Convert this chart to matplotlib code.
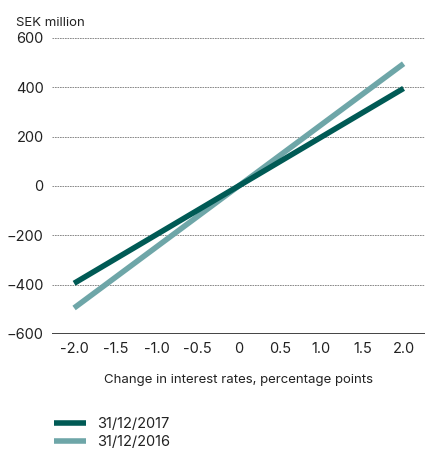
import numpy as np
import matplotlib
matplotlib.use('Agg')
import matplotlib.pyplot as plt
from matplotlib.lines import Line2D

rate_change = [-2.0, 2.0]
val_2017 = [-395, 395]
val_2016 = [-495, 495]
x_ticks = [-2.0, -1.5, -1.0, -0.5, 0, 0.5, 1.0, 1.5, 2.0]
x_labels = ['-2.0', '-1.5', '-1.0', '-0.5', '0', '0.5', '1.0', '1.5', '2.0']
y_ticks = [-600, -400, -200, 0, 200, 400, 600]

c17 = '#005a55'
c16 = '#6ea6a8'

plt.rcParams['font.family'] = ['Inter', 'DejaVu Sans']

fig = plt.figure(figsize=(4.25, 4.5), dpi=100)
ax = fig.add_axes([0.122, 0.258, 0.878, 0.658])

for y in y_ticks[1:]:
    ax.axhline(y, color='#777777', lw=0.6, ls=(0, (2, 1)), zorder=1)
ax.axhline(-600, color='#222222', lw=1.2, zorder=1)

ax.plot(rate_change, val_2017, color=c17, lw=4, solid_capstyle='butt', zorder=3)
ax.plot(rate_change, val_2016, color=c16, lw=4, solid_capstyle='butt', zorder=2)

ax.set_xlim(-2.27, 2.26)
ax.set_ylim(-600, 600)
ax.set_xticks(x_ticks)
ax.set_xticklabels(x_labels)
ax.set_yticks(y_ticks)
ax.tick_params(length=0, labelsize=10.5, colors='#222222')
ax.tick_params(axis='y', pad=6)
ax.tick_params(axis='x', pad=6)
for s in ax.spines.values():
    s.set_visible(False)

ax.set_xlabel('Change in interest rates, percentage points', fontsize=9.5,
              color='#222222', labelpad=13)
fig.text(0.038, 0.948, 'SEK million', fontsize=9.5, color='#222222', va='center')

handles = [Line2D([], [], color=c17, lw=4, solid_capstyle='butt'),
           Line2D([], [], color=c16, lw=4, solid_capstyle='butt')]
fig.legend(handles, ['31/12/2017', '31/12/2016'], loc='upper left',
           bbox_to_anchor=(0.128, 0.074), bbox_transform=fig.transFigure,
           frameon=False, fontsize=10.5, handlelength=2.2, handletextpad=0.7,
           labelspacing=0.3, borderaxespad=0, borderpad=0,
           labelcolor='#222222')

fig.savefig('out.png', dpi=100)
